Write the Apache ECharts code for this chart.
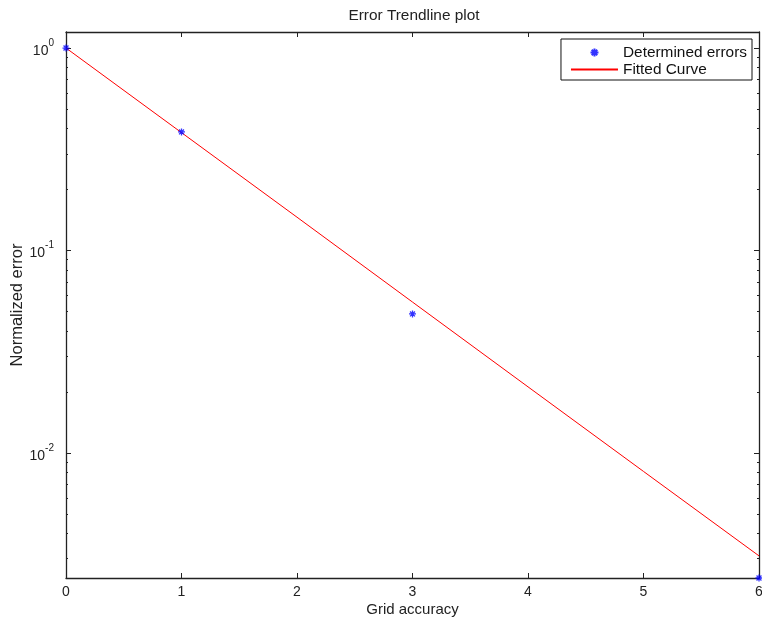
<!DOCTYPE html>
<html>
<head>
<meta charset="utf-8">
<script src="https://cdn.jsdelivr.net/npm/echarts@6/dist/echarts.min.js"></script>
<style>
  html, body { margin: 0; padding: 0; background: #fff; }
  #chart { width: 762px; height: 622px; }
</style>
</head>
<body>
<div id="chart"></div>
<script>
// Measured errors at each grid accuracy level
const errorX = [0, 1, 3, 6];
const errorY = [1.0, 0.385, 0.0486, 0.00241];

// Exponential fit, sampled at integer grid accuracy levels
const fitX = [0, 1, 2, 3, 4, 5, 6];
const fitY = [1.0, 0.382, 0.146, 0.0556, 0.0212, 0.0081, 0.0031];

// Axis ticks
const xTicks = [0, 1, 2, 3, 4, 5, 6];
const yMajorTicks = [0.01, 0.1, 1];
const yMinorTicks = [0.003, 0.004, 0.005, 0.006, 0.007, 0.008, 0.009,
                     0.02, 0.03, 0.04, 0.05, 0.06, 0.07, 0.08, 0.09,
                     0.2, 0.3, 0.4, 0.5, 0.6, 0.7, 0.8, 0.9];
const yRange = [0.00241, 1.2];

const FONT = '"Liberation Sans", Arial, sans-serif';
const AXIS_COLOR = '#222';

// MATLAB-style asterisk marker
const ASTERISK = 'path://M0,5L10,5M5,0L5,10M1.5,1.5L8.5,8.5M8.5,1.5L1.5,8.5';

function yAxisDef(position, ticks, len, showLabel, showLine) {
  return {
    type: 'log',
    logBase: 10,
    position: position,
    min: yRange[0],
    max: yRange[1],
    axisLine: { show: showLine, lineStyle: { color: AXIS_COLOR, width: 1.3 } },
    axisTick: { show: true, inside: true, length: len, customValues: ticks,
                lineStyle: { color: AXIS_COLOR, width: 1 } },
    axisLabel: showLabel ? {
      show: true,
      customValues: yMajorTicks,
      margin: 12,
      formatter: function (v) {
        const e = Math.round(Math.log10(v));
        return '{b|10}{s|' + e + '}';
      },
      rich: {
        b: { fontSize: 14, fontFamily: FONT, color: '#222', lineHeight: 14, verticalAlign: 'bottom' },
        s: { fontSize: 10, fontFamily: FONT, color: '#222', lineHeight: 20, verticalAlign: 'top' }
      }
    } : { show: false },
    splitLine: { show: false }
  };
}

function xAxisDef(position, showLabel) {
  return {
    type: 'value',
    position: position,
    min: 0,
    max: 6,
    interval: 1,
    axisLine: { show: true, onZero: false, lineStyle: { color: AXIS_COLOR, width: 1.3 } },
    axisTick: { show: true, inside: true, length: 5, customValues: xTicks,
                lineStyle: { color: AXIS_COLOR, width: 1 } },
    axisLabel: showLabel ? {
      show: true, margin: 7, fontSize: 14, fontFamily: FONT, color: '#222'
    } : { show: false },
    splitLine: { show: false }
  };
}

const chart = echarts.init(document.getElementById('chart'), null, { renderer: 'canvas' });

const xBottom = xAxisDef('bottom', true);
xBottom.name = 'Grid accuracy';
xBottom.nameLocation = 'middle';
xBottom.nameGap = 24;
xBottom.nameMoveOverlap = false;
xBottom.nameTextStyle = { fontSize: 15, fontFamily: FONT, color: '#222' };

const yLeft = yAxisDef('left', yMajorTicks, 5, true, true);
yLeft.name = 'Normalized error';
yLeft.nameLocation = 'middle';
yLeft.nameGap = 40;
yLeft.nameMoveOverlap = false;
yLeft.nameTextStyle = { fontSize: 16.5, fontFamily: FONT, color: '#222' };

chart.setOption({
  backgroundColor: '#fff',
  animation: false,
  title: {
    text: 'Error Trendline plot',
    left: 414,
    textAlign: 'center',
    top: 8,
    padding: 0,
    textStyle: { fontSize: 15.4, fontWeight: 'normal', fontFamily: FONT, color: '#222' }
  },
  grid: { left: 66, right: 3, top: 32, bottom: 44, containLabel: false, outerBoundsMode: 'none' },
  legend: {
    orient: 'vertical',
    right: 10,
    top: 39,
    padding: [6, 5, 3, 9],
    itemGap: 2,
    itemWidth: 47,
    itemHeight: 8,
    borderColor: '#111',
    borderWidth: 1,
    backgroundColor: '#fff',
    textStyle: { fontSize: 15.4, fontFamily: FONT, color: '#111' },
    data: [
      { name: 'Determined errors' },
      { name: 'Fitted Curve', itemStyle: { opacity: 0 } }
    ]
  },
  xAxis: [xBottom, xAxisDef('top', false)],
  yAxis: [
    yLeft,
    yAxisDef('left', yMinorTicks, 2, false, false),
    yAxisDef('right', yMajorTicks, 5, false, true),
    yAxisDef('right', yMinorTicks, 2, false, false)
  ],
  series: [
    {
      name: 'Fitted Curve',
      type: 'line',
      xAxisIndex: 0,
      yAxisIndex: 0,
      data: fitX.map((x, i) => [x, fitY[i]]),
      symbol: 'none',
      lineStyle: { color: '#ff0000', width: 1 },
      itemStyle: { color: '#ff0000' },
      z: 2
    },
    {
      name: 'Determined errors',
      type: 'scatter',
      xAxisIndex: 0,
      yAxisIndex: 0,
      data: errorX.map((x, i) => [x, errorY[i]]),
      symbol: ASTERISK,
      symbolSize: 7,
      clip: false,
      itemStyle: { color: 'rgba(0,0,0,0)', borderColor: '#0000ff', borderWidth: 1.3 },
      z: 3
    }
  ]
});
</script>
</body>
</html>
